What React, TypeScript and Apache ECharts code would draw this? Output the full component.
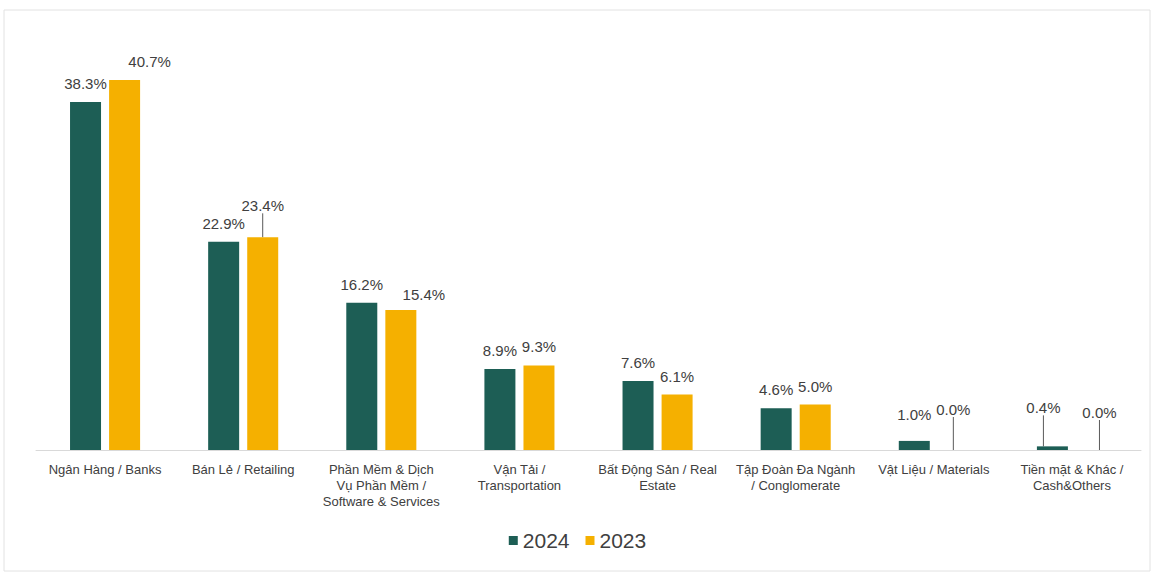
import React, { useEffect, useRef } from "react";
import * as echarts from "echarts";

const categories = [
  "Ngân Hàng / Banks",
  "Bán Lẻ / Retailing",
  "Phần Mềm & Dịch\nVụ Phần Mềm /\nSoftware & Services",
  "Vận Tải /\nTransportation",
  "Bất Động Sản / Real\nEstate",
  "Tập Đoàn Đa Ngành\n/ Conglomerate",
  "Vật Liệu / Materials",
  "Tiền mặt & Khác /\nCash&Others",
];
const values2024 = [38.3, 22.9, 16.2, 8.9, 7.6, 4.6, 1.0, 0.4];
const values2023 = [40.7, 23.4, 15.4, 9.3, 6.1, 5.0, 0.0, 0.0];
const seriesNames = ["2024", "2023"];

// label nudges (style, not data): [seriesIndex][dataIndex] -> [dx, dy, showLine]
const labelNudge: [number, number, boolean][][] = [
  [[0, 0, false], [0, 0, false], [0, 0, false], [0, 0, false], [0, 0, false], [0, 0, false], [0, -8, false], [-9, -20, true]],
  [[25, 0, false], [0, -13, true], [23, 3, false], [0, 0, false], [0, 0, false], [0, 0, false], [0, -22, true], [8, -19, true]],
];

const COLORS = ["#1D5E55", "#F5B000"];

export default function App() {
  const ref = useRef<HTMLDivElement>(null);
  useEffect(() => {
    if (!ref.current) return;
    const chart = echarts.init(ref.current, undefined, { renderer: "svg" });
    const mk = (vals: number[], si: number) =>
      vals.map((v, i) => ({
        value: v,
        labelLine: labelNudge[si][i][2]
          ? { show: true, lineStyle: { color: "#595959", width: 1 } }
          : { show: false },
      }));
    chart.setOption({
      animation: false,
      backgroundColor: "#ffffff",
      color: COLORS,
      textStyle: { fontFamily: "Liberation Sans, Arial, sans-serif" },
      graphic: [
        {
          type: "rect",
          shape: { x: 4, y: 10, width: 1146, height: 561 },
          style: { fill: "none", stroke: "#e2e2e2", lineWidth: 1 },
          silent: true,
        },
      ],
      legend: {
        data: seriesNames,
        bottom: 19,
        left: "center",
        itemWidth: 9,
        itemHeight: 9,
        itemGap: 16,
        icon: "rect",
        textStyle: { fontSize: 21, color: "#404040", fontFamily: "Liberation Sans, Arial, sans-serif" },
      },
      grid: { left: 36, right: 14, top: 41, bottom: 125 },
      xAxis: {
        type: "category",
        data: categories,
        axisLine: { lineStyle: { color: "#d9d9d9" } },
        axisTick: { show: false },
        axisLabel: {
          interval: 0,
          margin: 11,
          fontSize: 13,
          lineHeight: 16,
          color: "#404040",
          fontFamily: "Liberation Sans, Arial, sans-serif",
        },
      },
      yAxis: {
        type: "value",
        min: 0,
        max: 45,
        show: false,
        splitLine: { show: false },
      },
      series: [values2024, values2023].map((vals, si) => ({
        name: seriesNames[si],
        type: "bar",
        data: mk(vals, si),
        barWidth: 31,
        barGap: "26%",
        itemStyle: { color: COLORS[si] },
        label: {
          show: true,
          position: "top",
          distance: 11,
          fontSize: 15,
          color: "#404040",
          fontFamily: "Liberation Sans, Arial, sans-serif",
          formatter: (p: any) => Number(p.value).toFixed(1) + "%",
        },
        labelLayout: (params: any) => {
          const n = labelNudge[si][params.dataIndex];
          return { dx: n[0], dy: n[1] };
        },
      })),
    });
    return () => chart.dispose();
  }, []);
  return (
    <div
      ref={ref}
      style={{ position: "fixed", left: 0, top: 0, width: 1155, height: 575 }}
    />
  );
}
